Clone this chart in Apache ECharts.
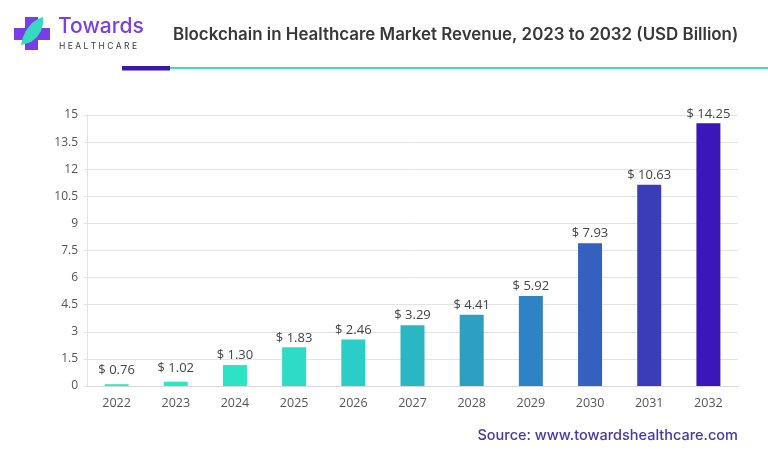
<!DOCTYPE html>
<html>
<head>
<meta charset="utf-8">
<script src="https://cdn.jsdelivr.net/npm/echarts@6/dist/echarts.min.js"></script>
<style>
  html, body { margin: 0; padding: 0; background: #fff; }
  #chart { width: 768px; height: 455px; }
</style>
</head>
<body>
<div id="chart"></div>
<script>
// data
var years = ['2022', '2023', '2024', '2025', '2026', '2027', '2028', '2029', '2030', '2031', '2032'];
// bar heights as drawn
var barValues = [0.1, 0.24, 1.16, 2.14, 2.58, 3.36, 3.95, 4.98, 7.9, 11.14, 14.54];
// printed labels above the bars
var labelValues = ['0.76', '1.02', '1.30', '1.83', '2.46', '3.29', '4.41', '5.92', '7.93', '10.63', '14.25'];
var barColors = ['#2ee8c6', '#2ee6c6', '#2de3c6', '#2cdcc6', '#2bcdc7', '#2bb6c4', '#2d9fc3', '#2f82c4', '#3461c0', '#3a3db8', '#3b16b8'];

var chart = echarts.init(document.getElementById('chart'));

var seriesData = [];
for (var i = 0; i < years.length; i++) {
    seriesData.push({
        value: barValues[i],
        itemStyle: { color: barColors[i] },
        label: { formatter: '$ ' + labelValues[i], offset: i < 2 ? [0, -4] : [0, 0] }
    });
}

var option = {
    animation: false,
    backgroundColor: '#fff',
    title: {
        text: 'Blockchain in Healthcare Market Revenue, 2023 to 2032 (USD Billion)',
        left: 168,
        top: 21,
        textStyle: { fontFamily: 'Inter', fontWeight: 600, fontSize: 16.9, color: '#383838' }
    },
    graphic: [
        // logo cross
        { type: 'rect', shape: { x: 25, y: 17, width: 13, height: 33 }, style: { fill: '#7a3ee6' } },
        { type: 'rect', shape: { x: 14, y: 28, width: 36, height: 12 }, style: { fill: '#7a3ee6' } },
        // leaf
        { type: 'polygon', shape: { points: [[21, 45], [23, 37], [27, 29], [32, 23], [38, 19], [43, 17], [43, 24], [41, 31], [37, 37], [31, 42], [25, 44]] }, style: { fill: '#37d9c0' } },
        { type: 'text', left: 58, top: 16, style: { text: 'Towards', fontFamily: 'Inter', fontWeight: 500, fontSize: 21, fill: '#7a3ee6' } },
        { type: 'text', left: 59, top: 42, style: { text: 'H E A L T H C A R E', fontFamily: 'Inter', fontSize: 8.5, fill: '#3a3a3a' } },
        // header rule
        { type: 'rect', shape: { x: 170, y: 67, width: 598, height: 2 }, style: { fill: '#3ddbc0' } },
        { type: 'rect', shape: { x: 122, y: 66, width: 48, height: 4.5 }, style: { fill: '#3a17b0' } },
        // source
        { type: 'text', right: 30, top: 428, style: { text: 'Source: www.towardshealthcare.com', fontFamily: 'Inter', fontWeight: 500, fontSize: 14.5, fill: '#4a35a8' } }
    ],
    grid: { left: 87, right: 30, top: 115, bottom: 69 },
    xAxis: {
        type: 'category',
        data: years,
        axisLine: { lineStyle: { color: '#d9d9d9' } },
        axisTick: { show: false },
        axisLabel: { color: '#555', fontFamily: 'Open Sans', fontSize: 12.5, margin: 11 }
    },
    yAxis: {
        type: 'value',
        min: 0,
        max: 15,
        interval: 1.5,
        axisLine: { show: true, lineStyle: { color: '#e3e3e3' } },
        axisTick: { show: true, length: 3, lineStyle: { color: '#e3e3e3' } },
        splitLine: { lineStyle: { color: '#e3e3e3' } },
        axisLabel: { color: '#555', fontFamily: 'Open Sans', fontSize: 12, margin: 9 }
    },
    series: [{
        type: 'bar',
        data: seriesData,
        barWidth: 24,
        label: {
            show: true,
            position: 'top',
            distance: 3,
            color: '#444',
            fontFamily: 'Open Sans',
            fontSize: 13
        }
    }]
};

chart.setOption(option);
window.onresize = function () {
    chart.resize();
};
</script>
</body>
</html>
